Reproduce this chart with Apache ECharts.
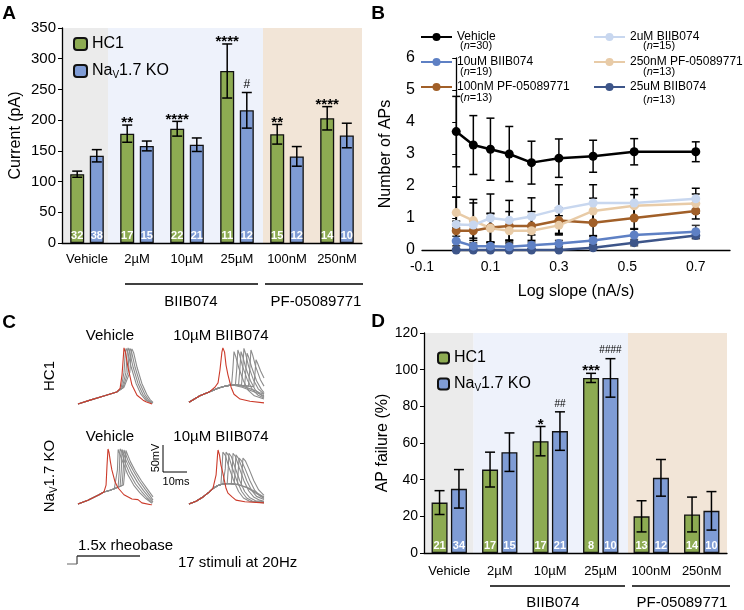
<!DOCTYPE html>
<html>
<head>
<meta charset="utf-8">
<script src="https://cdn.jsdelivr.net/npm/echarts@6/dist/echarts.min.js"></script>
<style>
html, body { margin: 0; padding: 0; background: #fff; }
#main { width: 744px; height: 610px; }
</style>
</head>
<body>
<div id="main"></div>
<script>
const FONT = '"Liberation Sans", Arial, Helvetica, sans-serif'

// ---- panel A : rheobase current (pA)
const groups = ['Vehicle', '2µM', '10µM', '25µM', '100nM', '250nM']
const rheoHC1 = [112, 178, 186, 280, 177, 203]
const rheoHC1Err = [5, 14, 12, 44, 16, 19]
const rheoKO = [142, 158, 160, 216, 141, 175]
const rheoKOErr = [10, 8, 11, 29, 16, 20]
const rheoHC1N = [32, 17, 22, 11, 15, 14]
const rheoKON = [38, 15, 21, 12, 12, 10]
const rheoHC1Sig = ['', '**', '****', '****', '**', '****']
const rheoKOSig = ['', '', '', '#', '', '']

// ---- panel D : AP failure (%)
const failHC1 = [27.5, 45.5, 61, 95.5, 20, 21]
const failHC1Err = [6.5, 9.5, 8, 2.5, 8.5, 9.5]
const failKO = [35, 55, 66.5, 95.5, 41, 23]
const failKOErr = [10.5, 10.5, 10.5, 10.5, 10, 10.5]
const failHC1N = [21, 17, 17, 8, 13, 14]
const failKON = [34, 15, 21, 10, 12, 10]
const failHC1Sig = ['', '', '*', '***', '', '']
const failKOSig = ['', '', '##', '####', '', '']

// background bands (category units): vehicle / BIIB074 / PF-05089771
const bandsA = [[0, 0.92], [0.92, 4.02], [4.02, 6]]
const bandsD = [[0, 0.98], [0.98, 4.04], [4.04, 6]]
const bandColors = ['#ebebeb', '#eef2fb', '#f2e5d7']

// ---- panel B : number of APs vs log slope
const logSlope = [0, 0.05, 0.1, 0.155, 0.22, 0.3, 0.4, 0.52, 0.7]
const apVehicle = [3.7, 3.28, 3.15, 3.0, 2.73, 2.87, 2.93, 3.07, 3.07]
const apVehicleErr = [1.1, 0.92, 0.97, 0.86, 0.67, 0.6, 0.5, 0.41, 0.31]
const ap2uM = [0.8, 0.78, 1.0, 0.93, 1.05, 1.27, 1.47, 1.47, 1.6]
const ap2uMErr = [0.85, 0.8, 0.75, 0.62, 0.58, 0.77, 0.57, 0.45, 0.33]
const ap10uM = [0.28, 0.12, 0.12, 0.1, 0.15, 0.2, 0.3, 0.47, 0.57]
const ap10uMErr = [0.15, 0.1, 0.1, 0.1, 0.1, 0.1, 0.12, 0.2, 0.2]
const ap25uM = [0, 0, 0, 0, 0, 0, 0.07, 0.23, 0.45]
const ap25uMErr = [0, 0, 0, 0, 0, 0, 0.05, 0.1, 0.1]
const ap100nM = [0.6, 0.6, 0.7, 0.75, 0.75, 0.92, 0.85, 1.0, 1.22]
const ap100nMErr = [0.3, 0.3, 0.45, 0.45, 0.45, 0.4, 0.4, 0.35, 0.25]
const ap250nM = [1.17, 0.92, 0.68, 0.6, 0.6, 0.77, 1.22, 1.38, 1.45]
const ap250nMErr = [0.48, 0.55, 0.45, 0.35, 0.45, 0.3, 0.4, 0.35, 0.3]

// ---- panel C : example traces (ms, mV)
const hc1VehRed = [[0,-73],[5,-66],[11,-58],[16,-51],[17.4,-44],[18.2,-19],[18.8,18],[19,31],[19.6,23],[20.7,-6],[22.3,-38],[24.4,-57],[26.9,-66],[28.1,-69],[30.6,-73]]
const hc1VehStart = [[0,-73],[5,-66],[11,-58],[16,-51]]
const hc1VehGray = [
  [[17.8,-44],[19,-15],[19.6,25],[19.9,30],[20.6,22],[22,-5],[24,-35],[26,-55],[28,-66],[30.6,-72]],
  [[18.2,-44],[19.8,-15],[20.4,25],[20.7,31],[21.4,22],[22.8,-5],[24.8,-35],[26.8,-55],[28.6,-66],[30.8,-72]],
  [[18.6,-43],[20.6,-15],[21.2,25],[21.5,30],[22.2,22],[23.6,-5],[25.6,-35],[27.6,-55],[29.2,-66],[31,-71]],
  [[19,-42],[21.4,-15],[22,25],[22.3,29],[23,22],[24.4,-5],[26.4,-35],[28.4,-55],[29.8,-65],[31,-70]]
]
const hc1BiibRed = [[0,-70],[4.5,-58],[8.3,-51],[10.7,-42],[12,-34],[12.8,-10],[13.6,23],[14,31],[14.7,23],[15.3,-1],[16.1,-19],[17.4,-42],[18.6,-55],[21.1,-64],[25.2,-68],[31,-71]]
const hc1BiibStart = [[0,-70],[4.5,-58],[8.3,-51],[12,-44],[14,-41],[16,-39]]
const hc1BiibGray = [
  [[17.6,-38],[18.1,-10],[18.6,24],[19.3,15],[20.5,-5],[22.5,-30],[24.5,-48],[27,-58],[31,-64]],
  [[18,-38],[19.2,-37],[19.7,-10],[20.2,27],[20.9,18],[22.1,-3],[24.1,-28],[26.1,-46],[28.6,-57],[31,-62]],
  [[18,-38],[20.5,-37],[21,-10],[21.5,24],[22.2,15],[23.4,-5],[25.4,-30],[27.4,-47],[29.9,-57],[31,-60]],
  [[18,-38],[21.7,-38],[22.2,-10],[22.7,30],[23.4,20],[24.6,-3],[26.6,-28],[28.6,-45],[31,-55]],
  [[18,-38],[23,-39],[23.5,-10],[24,21],[24.7,13],[25.9,-5],[27.9,-30],[29.9,-46],[31,-52]],
  [[18,-38],[22,-39],[24.6,-40],[25.1,-10],[25.6,27],[26.3,18],[27.5,-3],[29.5,-28],[31,-40]],
  [[18,-38],[22,-39],[26.8,-41],[27.3,-15],[27.7,9],[28.4,2],[29.6,-12],[31,-25]],
  [[18,-38],[22,-40],[26,-46],[29,-52],[31,-55]],
  [[18,-38],[22,-42],[26,-49],[29,-54],[31,-58]]
]
const koVehRed = [[0,-73],[4.1,-66],[8.7,-56],[10.7,-51],[11.6,-38],[12,-1],[12.4,29],[12.8,23],[13.4,5],[14,-10],[15.3,-32],[16.5,-43],[19,-56],[22.3,-64],[24.8,-65],[26.4,-71],[30.6,-75]]
const koVehStart = [[0,-73],[4.1,-66],[8.7,-56],[10.7,-51],[13,-48],[15,-45]]
const koVehGray = [
  [[15.8,-42],[16.3,-10],[16.6,28],[17.2,25],[18.5,5],[20.5,-18],[23,-38],[25.5,-52],[28,-63],[30.6,-72]],
  [[16.6,-41],[17.1,-10],[17.4,29],[18,25],[19.3,5],[21.3,-16],[23.8,-36],[26.3,-50],[28.6,-62],[30.8,-71]],
  [[17.4,-40],[17.9,-10],[18.2,28],[18.8,25],[20.1,5],[22.1,-14],[24.6,-33],[27,-48],[29.2,-60],[31,-69]],
  [[18.2,-39],[18.7,-10],[19,27],[19.6,24],[20.9,5],[22.9,-12],[25.4,-31],[27.8,-46],[29.8,-58],[31,-66]],
  [[18.8,-38],[19.4,-10],[19.8,26],[20.4,23],[21.7,5],[23.7,-12],[26.2,-30],[28.6,-45],[31,-60]]
]
const koBiibRed = [[0,-73],[2.9,-68],[5.8,-60],[8.3,-51],[9.9,-44],[11.2,-19],[11.8,18],[12,27],[12.6,18],[13.2,-1],[14,-16],[15.3,-44],[16.1,-53],[17.8,-60],[19.4,-66],[23.1,-69],[31,-71]]
const koBiibStart = [[0,-73],[2.9,-68],[5.8,-60],[8.3,-51],[10,-44],[12,-39]]
const koBiibGray = [
  [[13.2,-37],[13.6,-10],[14,23],[15,17],[16.5,-5],[18.5,-30],[20.5,-50],[22.5,-62],[25,-68],[31,-71]],
  [[14,-36],[14.6,-35],[15,-8],[15.3,23],[16.3,17],[17.8,-5],[19.8,-30],[21.8,-50],[23.8,-62],[26.3,-68],[31,-70]],
  [[14,-36],[15.8,-35],[16.2,-8],[16.5,21],[17.5,15],[19,-5],[21,-30],[23,-50],[25,-61],[27.5,-67],[31,-69]],
  [[14,-36],[16,-35],[17.5,-35],[17.9,-8],[18.2,21],[19.2,15],[20.7,-5],[22.7,-30],[24.7,-49],[26.7,-60],[29.2,-66],[31,-68]],
  [[14,-36],[16,-35],[18.7,-36],[19.1,-8],[19.4,18],[20.4,12],[21.9,-6],[23.9,-30],[25.9,-48],[27.9,-59],[31,-65]],
  [[14,-36],[16,-35],[20,-37],[20.4,-8],[20.7,12],[21.7,7],[23.2,-8],[25.2,-30],[27.2,-48],[29.2,-58],[31,-63]],
  [[14,-36],[16,-35],[20,-37],[21.6,-39],[22,-8],[22.3,12],[23.3,7],[24.8,-8],[26.8,-30],[28.8,-47],[31,-57]],
  [[14,-36],[16,-35],[20,-37],[24,-42],[28,-52],[31,-60]],
  [[14,-36],[16,-35],[20,-37],[24,-43],[28,-54],[31,-61]]
]

const chart = echarts.init(document.getElementById('main'))

// #region helpers
function shadeSeries(xIdx, yIdx, bands, top) {
  return {
    type: 'custom', xAxisIndex: xIdx, yAxisIndex: yIdx, z: 0, silent: true,
    data: bands.map((b, i) => [b[0], b[1], i]),
    renderItem: (params, api) => {
      const p0 = api.coord([api.value(0), top])
      const p1 = api.coord([api.value(1), 0])
      return {
        type: 'rect',
        shape: { x: p0[0], y: p0[1], width: p1[0] - p0[0], height: p1[1] - p0[1] },
        style: { fill: bandColors[params.dataIndex] }
      }
    }
  }
}
function barSeries(name, xIdx, yIdx, values, nList, color, width, gap) {
  return {
    name, type: 'bar', xAxisIndex: xIdx, yAxisIndex: yIdx, z: 2,
    data: values, barWidth: width, barGap: gap,
    itemStyle: { color, borderColor: '#111', borderWidth: 1.3 },
    label: {
      show: true, position: 'insideBottom', distance: 2,
      formatter: p => nList[p.dataIndex],
      color: '#fff', fontWeight: 'bold', fontSize: 11, fontFamily: FONT
    }
  }
}
function barErrSeries(xIdx, yIdx, means, errs, sigs, offset, starSize, hashSize) {
  return {
    type: 'custom', xAxisIndex: xIdx, yAxisIndex: yIdx, z: 3, silent: true,
    data: means.map((m, i) => [i, m, errs[i]]),
    renderItem: (params, api) => {
      const i = api.value(0), m = api.value(1), e = api.value(2)
      const hi = api.coord([i, m + e]), lo = api.coord([i, m - e])
      const x = hi[0] + offset
      const st = { stroke: '#000', lineWidth: 1.5 }
      const children = [
        { type: 'line', shape: { x1: x, y1: hi[1], x2: x, y2: lo[1] }, style: st },
        { type: 'line', shape: { x1: x - 5, y1: hi[1], x2: x + 5, y2: hi[1] }, style: st },
        { type: 'line', shape: { x1: x - 5, y1: lo[1], x2: x + 5, y2: lo[1] }, style: st }
      ]
      const sig = sigs[params.dataIndex]
      if (sig) {
        const isHash = sig[0] === '#'
        children.push({
          type: 'text',
          style: {
            text: sig, x, y: hi[1] + (isHash ? -8 : -2), align: 'center', verticalAlign: 'middle',
            fontSize: isHash ? hashSize : starSize, fontWeight: isHash ? 'normal' : 'bold',
            fontFamily: FONT, fill: '#000'
          }
        })
      }
      return { type: 'group', children }
    }
  }
}
function lineErrSeries(ys, errs, stroke) {
  return {
    type: 'custom', xAxisIndex: 2, yAxisIndex: 1, z: 3, silent: true,
    data: logSlope.map((x, i) => [x, ys[i], errs[i]]),
    renderItem: (params, api) => {
      const x = api.value(0), m = api.value(1), e = api.value(2)
      if (!e) return { type: 'group', children: [] }
      const hi = api.coord([x, m + e]), lo = api.coord([x, Math.max(0, m - e)])
      const st = { stroke, lineWidth: 1.5 }
      return {
        type: 'group', children: [
          { type: 'line', shape: { x1: hi[0], y1: hi[1], x2: lo[0], y2: lo[1] }, style: st },
          { type: 'line', shape: { x1: hi[0] - 4, y1: hi[1], x2: hi[0] + 4, y2: hi[1] }, style: st },
          { type: 'line', shape: { x1: lo[0] - 4, y1: lo[1], x2: lo[0] + 4, y2: lo[1] }, style: st }
        ]
      }
    }
  }
}
function apLine(name, ys, color) {
  return {
    name, type: 'line', xAxisIndex: 2, yAxisIndex: 1, z: 4,
    data: logSlope.map((x, i) => [x, ys[i]]),
    symbol: 'circle', symbolSize: 9, showSymbol: true,
    lineStyle: { color, width: 2.5 }, itemStyle: { color }
  }
}
function traceSeries(gridIdx, pts, color, width, z) {
  return {
    type: 'line', xAxisIndex: 5 + gridIdx, yAxisIndex: 3 + gridIdx, z,
    data: pts, showSymbol: false, silent: true, animation: false,
    lineStyle: { color, width }
  }
}
// #endregion

const series = [
  shadeSeries(1, 0, bandsA, 350),
  barSeries('HC1', 0, 0, rheoHC1, rheoHC1N, '#8dab52', 14, '40%'),
  barSeries('KO', 0, 0, rheoKO, rheoKON, '#7f9cd5', 14, '40%'),
  barErrSeries(0, 0, rheoHC1, rheoHC1Err, rheoHC1Sig, -9.8, 15, 12),
  barErrSeries(0, 0, rheoKO, rheoKOErr, rheoKOSig, 9.8, 15, 12),

  shadeSeries(4, 2, bandsD, 120),
  barSeries('HC1', 3, 2, failHC1, failHC1N, '#8dab52', 16, '21%'),
  barSeries('KO', 3, 2, failKO, failKON, '#7f9cd5', 16, '21%'),
  barErrSeries(3, 2, failHC1, failHC1Err, failHC1Sig, -9.7, 15, 10),
  barErrSeries(3, 2, failKO, failKOErr, failKOSig, 9.7, 15, 10),

  lineErrSeries(ap25uM, ap25uMErr, '#555'),
  lineErrSeries(ap10uM, ap10uMErr, '#333'),
  lineErrSeries(ap100nM, ap100nMErr, '#000'),
  lineErrSeries(ap250nM, ap250nMErr, '#000'),
  lineErrSeries(ap2uM, ap2uMErr, '#000'),
  lineErrSeries(apVehicle, apVehicleErr, '#000'),
  apLine('25uM BIIB074', ap25uM, '#3d5589'),
  apLine('10uM BIIB074', ap10uM, '#5e80c4'),
  apLine('100nM PF-05089771', ap100nM, '#a15f28'),
  apLine('250nM PF-05089771', ap250nM, '#e8cba7'),
  apLine('2uM BIIB074', ap2uM, '#c8d7ef'),
  apLine('Vehicle', apVehicle, '#000000')
]

const cSets = [
  [hc1VehStart, hc1VehGray, hc1VehRed],
  [hc1BiibStart, hc1BiibGray, hc1BiibRed],
  [koVehStart, koVehGray, koVehRed],
  [koBiibStart, koBiibGray, koBiibRed]
]
cSets.forEach((set, g) => {
  set[1].forEach(tr => series.push(traceSeries(g, [...set[0], ...tr], '#8c8c8c', 1.1, 5)))
  series.push(traceSeries(g, set[2], '#cc3b2b', 1.1, 6))
})

const cGridPos = [[78, 343], [189, 343], [78, 443], [189, 443]]
const axisLineStyle = { lineStyle: { color: '#000', width: 1.3 } }

const option = {
  animation: false,
  textStyle: { fontFamily: FONT },
  grid: [
    { left: 62, top: 28, width: 300, height: 215 },
    { left: 422, top: 58, width: 308, height: 192 },
    { left: 424, top: 333, width: 303, height: 220 },
    ...cGridPos.map(p => ({ left: p[0], top: p[1], width: 75, height: 62 }))
  ],
  xAxis: [
    { type: 'category', gridIndex: 0, data: groups, z: 1, axisLine: axisLineStyle, axisTick: { show: false },
      axisLabel: { color: '#000', fontSize: 13, margin: 10, interval: 0 } },
    { type: 'value', gridIndex: 0, min: 0, max: 6, show: false },
    { type: 'value', gridIndex: 1, min: -0.1, max: 0.8, interval: 0.1, z: 1,
      axisLine: axisLineStyle, axisTick: { show: false }, splitLine: { show: false },
      axisLabel: { color: '#000', fontSize: 14, margin: 10,
        formatter: v => { const k = Math.round(v * 10); return k % 2 !== 0 ? (k / 10).toFixed(1) : '' } },
      name: 'Log slope (nA/s)', nameLocation: 'middle', nameGap: 34,
      nameTextStyle: { color: '#000', fontSize: 16 } },
    { type: 'category', gridIndex: 2, data: groups, z: 1, axisLine: axisLineStyle, axisTick: { show: false },
      axisLabel: { color: '#000', fontSize: 13, margin: 12, interval: 0 } },
    { type: 'value', gridIndex: 2, min: 0, max: 6, show: false },
    ...cGridPos.map((p, i) => ({ type: 'value', gridIndex: 3 + i, min: 0, max: 31, show: false }))
  ],
  yAxis: [
    { type: 'value', gridIndex: 0, min: 0, max: 350, interval: 50, z: 1,
      axisLine: { show: true, ...axisLineStyle }, axisTick: { show: true, length: 4, lineStyle: { color: '#000' } },
      splitLine: { show: false }, axisLabel: { color: '#000', fontSize: 15, margin: 6 },
      name: 'Current (pA)', nameLocation: 'middle', nameGap: 38, nameRotate: 90,
      nameTextStyle: { color: '#000', fontSize: 16 } },
    { type: 'value', gridIndex: 1, min: 0, max: 6, interval: 1, z: 1,
      axisLine: { show: true, ...axisLineStyle }, axisTick: { show: true, length: 4, lineStyle: { color: '#000' } },
      splitLine: { show: false }, axisLabel: { color: '#000', fontSize: 16, margin: 7 },
      name: 'Number of APs', nameLocation: 'middle', nameGap: 28, nameRotate: 90,
      nameTextStyle: { color: '#000', fontSize: 16 } },
    { type: 'value', gridIndex: 2, min: 0, max: 120, interval: 20, z: 1,
      axisLine: { show: true, ...axisLineStyle }, axisTick: { show: true, length: 4, lineStyle: { color: '#000' } },
      splitLine: { show: false }, axisLabel: { color: '#000', fontSize: 14, margin: 6 },
      name: 'AP failure (%)', nameLocation: 'middle', nameGap: 32, nameRotate: 90,
      nameTextStyle: { color: '#000', fontSize: 16 } },
    ...cGridPos.map((p, i) => ({ type: 'value', gridIndex: 3 + i, min: -75, max: 40, show: false }))
  ],
  legend: [
    { data: ['HC1', 'KO'], orient: 'vertical', left: 73, top: 36, padding: 0,
      itemWidth: 13, itemHeight: 12, itemGap: 11,
      formatter: n => n === 'KO' ? 'Na{s|V}1.7 KO' : n,
      textStyle: { fontSize: 16, color: '#000', lineHeight: 16, rich: { s: { fontSize: 10, padding: [8, 0, 0, 0] } } } },
    { data: ['HC1', 'KO'], orient: 'vertical', left: 437, top: 350, padding: 0,
      itemWidth: 11, itemHeight: 11, itemGap: 10,
      formatter: n => n === 'KO' ? 'Na{s|V}1.7 KO' : n,
      textStyle: { fontSize: 16, color: '#000', lineHeight: 16, rich: { s: { fontSize: 10, padding: [8, 0, 0, 0] } } } },
    { data: ['Vehicle', '10uM BIIB074', '100nM PF-05089771'], orient: 'vertical', left: 420, top: 30, padding: 0,
      itemWidth: 31, itemHeight: 10, itemGap: 11, textStyle: { fontSize: 12, color: '#000', lineHeight: 14 } },
    { data: ['2uM BIIB074', '250nM PF-05089771', '25uM BIIB074'], orient: 'vertical', left: 593, top: 30, padding: 0,
      itemWidth: 31, itemHeight: 10, itemGap: 11, textStyle: { fontSize: 12, color: '#000', lineHeight: 14 } }
  ],
  graphic: [],
  series
}

function txt(text, x, y, size, extra) {
  return { type: 'text', x, y, silent: true,
    style: Object.assign({ text, fontSize: size, fontFamily: FONT, fill: '#000', align: 'center', verticalAlign: 'middle' }, extra || {}) }
}
function seg(x1, y1, x2, y2, stroke, w) {
  return { type: 'line', silent: true, shape: { x1, y1, x2, y2 }, style: { stroke: stroke || '#000', lineWidth: w || 1.5 } }
}
const nRich = { rich: { i: { fontStyle: 'italic', fontSize: 11 } }, align: 'left' }
option.graphic = [
  txt('A', 9, 14, 19, { fontWeight: 'bold' }),
  txt('B', 378, 14, 19, { fontWeight: 'bold' }),
  txt('C', 9, 323, 19, { fontWeight: 'bold' }),
  txt('D', 378, 322, 19, { fontWeight: 'bold' }),
  // panel A group bars
  seg(125, 284, 258, 284), seg(265, 284, 363, 284),
  txt('BIIB074', 191, 302, 15), txt('PF-05089771', 316, 302, 15),
  // panel D group bars
  seg(490, 586, 625, 586), seg(632, 586, 730, 586),
  txt('BIIB074', 553, 603, 15), txt('PF-05089771', 682, 603, 15),
  // panel B legend n
  txt('(' + '{i|n}' + '=30)', 460, 46, 11, nRich),
  txt('(' + '{i|n}' + '=19)', 460, 72, 11, nRich),
  txt('(' + '{i|n}' + '=13)', 460, 98, 11, nRich),
  txt('(' + '{i|n}' + '=15)', 643, 46, 11, nRich),
  txt('(' + '{i|n}' + '=13)', 643, 72, 11, nRich),
  txt('(' + '{i|n}' + '=13)', 643, 100, 11, nRich),
  // panel C labels
  txt('Vehicle', 110, 336, 15), txt('10µM BIIB074', 221, 336, 15),
  txt('Vehicle', 110, 437, 15), txt('10µM BIIB074', 221, 437, 15),
  { type: 'text', x: 50, y: 376, rotation: Math.PI / 2, silent: true,
    style: { text: 'HC1', fontSize: 15, fontFamily: FONT, fill: '#000', align: 'center', verticalAlign: 'middle' } },
  { type: 'text', x: 50, y: 476, rotation: Math.PI / 2, silent: true,
    style: { text: 'Na{s|V}1.7 KO', fontSize: 15, fontFamily: FONT, fill: '#000', align: 'center', verticalAlign: 'middle',
      rich: { s: { fontSize: 10, padding: [8, 0, 0, 0] } } } },
  // scale bar
  seg(163, 445, 163, 472, '#000', 1), seg(163, 472, 187, 472, '#000', 1),
  { type: 'text', x: 156, y: 458, rotation: Math.PI / 2, silent: true,
    style: { text: '50mV', fontSize: 11, fontFamily: FONT, fill: '#000', align: 'center', verticalAlign: 'middle' } },
  txt('10ms', 176, 482, 11),
  // stimulus
  seg(67, 564, 77, 564, '#999', 1.5), seg(77, 564, 77, 556, '#666', 1.5), seg(77, 556, 140, 556, '#333', 1.5),
  txt('1.5x rheobase', 78, 546, 15, { align: 'left' }),
  txt('17 stimuli at 20Hz', 178, 563, 15, { align: 'left' })
]

chart.setOption(option)
</script>
</body>
</html>
